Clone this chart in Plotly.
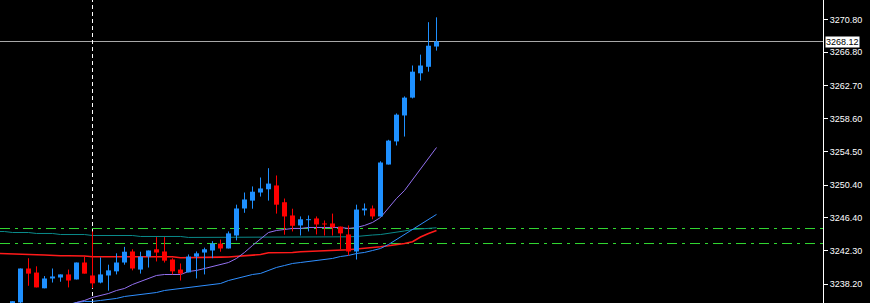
import plotly.graph_objects as go

# ---- candle data (bar index, OHLC) ----
bar_index = list(range(-1, 53))
opens = [3235.00, 3235.95, 3240.13, 3239.63, 3237.69, 3238.90, 3239.02, 3239.40, 3238.78, 3240.87,
         3239.27, 3238.40, 3239.27, 3239.78, 3240.87, 3242.23, 3240.00, 3241.60, 3242.50, 3242.23,
         3241.24, 3240.00, 3239.65, 3241.60, 3242.10, 3242.35, 3243.20, 3242.60, 3244.20, 3247.53,
         3248.50, 3249.50, 3249.90, 3250.37, 3248.30, 3246.67, 3245.44, 3246.10, 3246.30, 3245.68,
         3245.68, 3245.30, 3244.33, 3242.23, 3247.30, 3247.53, 3246.55, 3252.95, 3255.80, 3259.00,
         3261.20, 3264.20, 3265.00, 3267.50]
highs = [3236.10, 3240.13, 3241.40, 3240.40, 3239.20, 3240.13, 3239.40, 3240.00, 3240.87, 3241.60,
         3244.70, 3241.50, 3240.60, 3242.00, 3242.80, 3242.50, 3242.20, 3242.35, 3244.00, 3244.00,
         3241.40, 3240.75, 3241.86, 3242.23, 3242.70, 3243.50, 3243.70, 3244.70, 3248.00, 3249.50,
         3250.25, 3251.35, 3252.50, 3251.60, 3248.76, 3247.50, 3246.55, 3246.67, 3246.55, 3246.05,
         3246.90, 3245.30, 3245.44, 3248.00, 3248.15, 3247.90, 3253.35, 3256.00, 3259.25, 3261.35,
         3265.16, 3266.50, 3270.50, 3271.10]
lows = [3234.80, 3235.50, 3238.00, 3237.80, 3237.69, 3238.40, 3238.50, 3237.80, 3238.78, 3239.50,
        3237.70, 3238.30, 3237.40, 3239.40, 3240.60, 3239.90, 3239.50, 3240.25, 3241.00, 3240.87,
        3239.40, 3238.65, 3239.65, 3238.90, 3239.40, 3241.40, 3242.20, 3242.60, 3243.60, 3247.00,
        3247.50, 3249.00, 3248.50, 3246.90, 3244.30, 3244.70, 3244.20, 3244.70, 3244.33, 3244.20,
        3244.20, 3242.50, 3241.74, 3241.24, 3246.67, 3246.20, 3246.55, 3252.95, 3255.30, 3256.40,
        3261.10, 3263.30, 3264.40, 3267.00]
closes = [3236.10, 3240.13, 3239.50, 3237.80, 3238.90, 3239.15, 3239.40, 3238.65, 3240.87, 3239.50,
          3238.30, 3239.40, 3239.90, 3240.87, 3242.20, 3240.13, 3241.60, 3242.35, 3242.10, 3241.10,
          3239.78, 3239.50, 3241.60, 3242.00, 3242.50, 3243.20, 3242.60, 3244.46, 3247.53, 3248.64,
          3249.60, 3250.00, 3250.60, 3248.00, 3246.55, 3245.40, 3246.20, 3246.20, 3245.56, 3245.56,
          3245.20, 3244.46, 3242.23, 3247.40, 3247.53, 3246.55, 3253.20, 3255.90, 3259.10, 3261.20,
          3264.40, 3265.16, 3267.60, 3268.12]

# ---- moving averages ----
ma_index = list(range(-3, 53))
ma_purple = [3233.00, 3233.30, 3233.72, 3234.22, 3234.59, 3234.96, 3235.20, 3235.33, 3235.45, 3235.57,
             3235.94, 3236.19, 3236.56, 3236.81, 3237.05, 3237.42, 3237.67, 3238.16, 3238.53, 3238.90,
             3239.27, 3239.39, 3239.39, 3239.39, 3239.76, 3239.89, 3240.13, 3240.38, 3240.63, 3240.87,
             3241.37, 3242.11, 3242.97, 3243.83, 3244.57, 3244.82, 3244.94, 3245.07, 3245.07, 3245.19,
             3245.19, 3245.19, 3245.19, 3245.19, 3245.07, 3245.19, 3245.44, 3245.81, 3246.42, 3247.66,
             3248.77, 3249.75, 3251.11, 3252.46, 3253.70, 3255.05]
ma_blue = [3233.50, 3233.70, 3233.97, 3234.22, 3234.47, 3234.71, 3234.96, 3235.20, 3235.45, 3235.70,
           3235.94, 3236.07, 3236.07, 3236.19, 3236.31, 3236.44, 3236.68, 3236.81, 3236.93, 3237.05,
           3237.17, 3237.42, 3237.54, 3237.67, 3237.79, 3237.91, 3238.04, 3238.16, 3238.28, 3238.65,
           3238.90, 3239.15, 3239.39, 3239.52, 3239.89, 3240.26, 3240.50, 3240.75, 3240.87, 3241.00,
           3241.12, 3241.24, 3241.37, 3241.61, 3241.74, 3241.98, 3242.11, 3242.35, 3242.60, 3243.09,
           3243.71, 3244.32, 3244.94, 3245.56, 3246.18, 3246.80]
ma_red = [3242.00, 3241.95, 3241.92, 3241.92, 3241.82, 3241.82, 3241.79, 3241.70, 3241.70, 3241.70,
          3241.70, 3241.68, 3241.58, 3241.58, 3241.58, 3241.58, 3241.58, 3241.58, 3241.58, 3241.58,
          3241.58, 3241.58, 3241.58, 3241.45, 3241.45, 3241.45, 3241.53, 3241.53, 3241.53, 3241.55,
          3241.65, 3241.68, 3241.82, 3241.86, 3242.07, 3242.07, 3242.07, 3242.11, 3242.19, 3242.23,
          3242.32, 3242.32, 3242.32, 3242.38, 3242.44, 3242.54, 3242.60, 3242.69, 3242.81, 3242.93,
          3243.03, 3243.22, 3243.43, 3244.02, 3244.45, 3244.82]
ma_teal = [3244.69, 3244.69, 3244.57, 3244.57, 3244.57, 3244.45, 3244.45, 3244.45, 3244.32, 3244.32,
           3244.32, 3244.32, 3244.20, 3244.20, 3244.20, 3244.20, 3244.20, 3244.20, 3244.08, 3244.08,
           3244.08, 3244.08, 3244.08, 3244.08, 3243.96, 3243.96, 3243.96, 3243.96, 3243.96, 3243.96,
           3243.98, 3244.04, 3244.04, 3244.04, 3244.04, 3244.04, 3244.04, 3244.04, 3244.04, 3244.04,
           3244.04, 3244.04, 3244.04, 3244.04, 3244.04, 3244.08, 3244.20, 3244.26, 3244.32, 3244.45,
           3244.57, 3244.76, 3244.94, 3245.00, 3245.07, 3245.15]

price_ticks = [3270.80, 3266.80, 3262.70, 3258.60, 3254.50, 3250.40, 3246.40, 3242.30, 3238.20]
tick_labels = [f"{v:.2f}" for v in price_ticks]
current_price = 3268.12
level_upper = 3245.06
level_lower = 3243.21
cursor_bar = 9

BULL = "#1e90ff"
BEAR = "#ff0000"

fig = go.Figure()

for vals, col, w in [(ma_teal, "#0a8a8a", 1), (ma_red, "#ff1a1a", 1.6),
                     (ma_blue, "#2f8fff", 1), (ma_purple, "#9370f0", 1)]:
    fig.add_trace(go.Scatter(x=ma_index, y=vals, mode="lines",
                             line=dict(color=col, width=w), hoverinfo="skip"))

# candles: wicks then bodies, built from the OHLC lists
for is_bull, col in [(True, BULL), (False, BEAR)]:
    wx, wy, bx, by = [], [], [], []
    for k, o, h, l, c in zip(bar_index, opens, highs, lows, closes):
        if (c >= o) != is_bull:
            continue
        wx += [k, k, None]
        wy += [l, h, None]
        lo, hi = min(o, c), max(o, c)
        if hi - lo < 0.12:
            mid = (hi + lo) / 2
            lo, hi = mid - 0.06, mid + 0.06
        bx += [k, k, None]
        by += [lo, hi, None]
    fig.add_trace(go.Scatter(x=wx, y=wy, mode="lines", line=dict(color=col, width=1),
                             hoverinfo="skip"))
    fig.add_trace(go.Scatter(x=bx, y=by, mode="lines", line=dict(color=col, width=5),
                             hoverinfo="skip"))

shapes = [
    dict(type="line", xref="paper", x0=0, x1=1, yref="y", y0=level_upper, y1=level_upper,
         line=dict(color="#32d932", width=1, dash="10px,5px,3px,5px"), layer="below"),
    dict(type="line", xref="paper", x0=0, x1=1, yref="y", y0=level_lower, y1=level_lower,
         line=dict(color="#32d932", width=1, dash="10px,5px,3px,5px"), layer="below"),
    dict(type="line", xref="paper", x0=0, x1=1, yref="y", y0=current_price, y1=current_price,
         line=dict(color="#a8a8a8", width=1), layer="below"),
    dict(type="line", xref="x", x0=cursor_bar, x1=cursor_bar, yref="paper", y0=0, y1=1,
         line=dict(color="#ffffff", width=1, dash="4px,3px"), layer="below"),
]

fig.update_layout(
    width=870, height=303,
    margin=dict(l=0, r=47, t=0, b=0),
    paper_bgcolor="#000000", plot_bgcolor="#000000",
    showlegend=False,
    shapes=shapes,
    font=dict(family="Liberation Sans, Arial, sans-serif", size=9, color="#ffffff"),
    xaxis=dict(range=[-2.5625, 100.3125], visible=False, fixedrange=True),
    yaxis=dict(range=[3235.877, 3273.237], side="right", tickmode="array",
               tickvals=price_ticks, ticktext=tick_labels, ticks="outside", ticklen=4,
               tickcolor="#ffffff", showline=True, linecolor="#ffffff", linewidth=1,
               showgrid=False, zeroline=False, fixedrange=True,
               tickfont=dict(family="Liberation Sans, Arial, sans-serif", size=9, color="#ffffff")),
    annotations=[dict(xref="paper", x=1, xanchor="left", xshift=2, yref="y", y=current_price,
                      text=f"{current_price:.2f}", showarrow=False, bgcolor="#ffffff",
                      font=dict(family="Liberation Sans, Arial, sans-serif", size=9, color="#000000"),
                      borderpad=0)],
)

fig.write_html("out.html")
